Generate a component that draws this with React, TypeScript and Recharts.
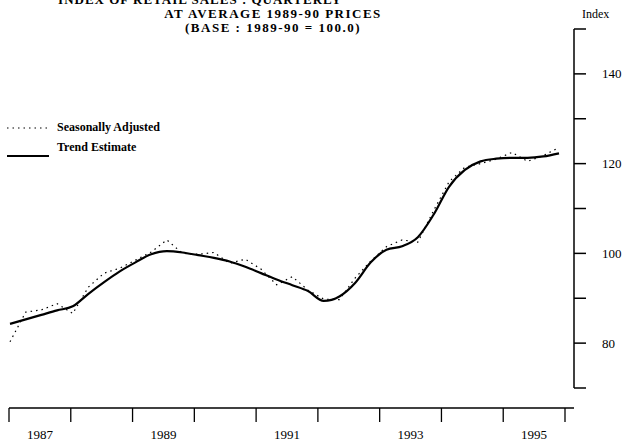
import { LineChart, Line, XAxis, YAxis, Legend } from 'recharts'

const quarters = [
    '1987Q1', '1987Q2', '1987Q3', '1987Q4', '1988Q1', '1988Q2', '1988Q3', '1988Q4',
    '1989Q1', '1989Q2', '1989Q3', '1989Q4', '1990Q1', '1990Q2', '1990Q3', '1990Q4',
    '1991Q1', '1991Q2', '1991Q3', '1991Q4', '1992Q1', '1992Q2', '1992Q3', '1992Q4',
    '1993Q1', '1993Q2', '1993Q3', '1993Q4', '1994Q1', '1994Q2', '1994Q3', '1994Q4',
    '1995Q1', '1995Q2', '1995Q3', '1995Q4',
]

const seasonallyAdjusted = [
    80.3, 86.9, 87.4, 88.8, 86.6, 92.5, 95.6, 96.7, 98.5, 100.3, 103.0, 100.0,
    99.8, 100.2, 97.8, 98.7, 96.5, 93.0, 94.8, 91.8, 89.8, 89.7, 94.5, 98.3,
    101.5, 103.0, 102.5, 109.5, 116.0, 119.2, 120.0, 121.0, 122.5, 120.5, 121.8, 123.6,
]

const trendEstimate = [
    84.3, 85.3, 86.3, 87.3, 88.2, 91.0, 93.6, 96.0, 98.0, 99.8, 100.5, 100.2,
    99.6, 99.0, 98.2, 97.0, 95.6, 94.2, 92.9, 91.6, 89.4, 90.4, 93.4, 98.0,
    100.8, 101.6, 103.6, 108.6, 114.9, 118.6, 120.5, 121.1, 121.3, 121.3, 121.6, 122.3,
]

// year boundaries and year labels, in quarter-index units (0 = start of 1987)
const firstYear = 1987
const yearTicks = [0, 4, 8, 12, 16, 20, 24, 28, 32, 36]
const yearLabelTicks = [2, 10, 18, 26, 34]
const indexTicks = [70, 80, 90, 100, 110, 120, 130, 140, 150]
const labelledIndex = [80, 100, 120, 140]

const data = quarters.map((q, i) => ({
    idx: i,
    quarter: q,
    sa: seasonallyAdjusted[i],
    trend: trendEstimate[i],
}))

const serif = '"Liberation Serif", "Times New Roman", serif'

function LegendBox() {
    return (
        <div style={{ fontFamily: serif, fontWeight: 'bold', fontSize: 12, color: '#000' }}>
            <div style={{ display: 'flex', alignItems: 'center', height: 20 }}>
                <svg width={50} height={10}>
                    <line x1={0} y1={6} x2={42} y2={6} stroke="#000" strokeWidth={1.2} strokeDasharray="1.5 4" />
                </svg>
                <span>Seasonally Adjusted</span>
            </div>
            <div style={{ display: 'flex', alignItems: 'center', height: 20 }}>
                <svg width={50} height={20}>
                    <line x1={0} y1={19} x2={42} y2={19} stroke="#000" strokeWidth={2} />
                </svg>
                <span>Trend Estimate</span>
            </div>
        </div>
    )
}

export default function App() {
    return (
        <div style={{ position: 'fixed', left: 0, top: 0, width: 625, height: 448, background: '#fff', overflow: 'hidden' }}>
            <div style={{ position: 'absolute', left: 0, width: 400, top: -8, textAlign: 'center', fontFamily: serif, fontWeight: 'bold', fontSize: 13, letterSpacing: 1 }}>
                INDEX OF RETAIL SALES : QUARTERLY
            </div>
            <div style={{ position: 'absolute', left: 123, width: 300, top: 7, textAlign: 'center', fontFamily: serif, fontWeight: 'bold', fontSize: 13, letterSpacing: 1.5, lineHeight: '14px' }}>
                <div>AT AVERAGE 1989-90 PRICES</div>
                <div>(BASE : 1989-90 = 100.0)</div>
            </div>
            <div style={{ position: 'absolute', left: 582, top: 7, fontFamily: serif, fontSize: 12 }}>Index</div>
            <LineChart width={625} height={448} data={data} margin={{ top: 29, right: 0, left: 9, bottom: 0 }}>
                <XAxis xAxisId="a_data" dataKey="idx" type="number" domain={[0, 35]} padding={{ left: 1, right: 15 }}
                    axisLine={false} tickLine={false} tick={false} height={20} />
                <XAxis xAxisId="b_years" dataKey="idx" type="number" domain={[0, 36]} ticks={yearTicks}
                    padding={{ left: 0, right: 9 }} allowDataOverflow
                    tickFormatter={() => ''} tickSize={14} height={14} axisLine={{ stroke: '#000', strokeWidth: 1.5 }}
                    tickLine={{ stroke: '#000', strokeWidth: 1.3 }} />
                <XAxis xAxisId="c_labels" dataKey="idx" type="number" domain={[0, 36]} ticks={yearLabelTicks}
                    padding={{ left: 0, right: 9 }} allowDataOverflow
                    tickFormatter={(v: number) => String(firstYear + Math.floor(v / 4))} axisLine={false} tickLine={false}
                    tickSize={0} tickMargin={8} height={26}
                    tick={{ fontSize: 13, fontFamily: serif, fill: '#000' }} />
                <YAxis orientation="right" type="number" domain={[70, 150]} ticks={indexTicks} width={51}
                    tickFormatter={(v: number) => (labelledIndex.includes(v) ? String(v) : '')}
                    tickSize={12} tickMargin={16} axisLine={{ stroke: '#000', strokeWidth: 1.5 }}
                    tickLine={{ stroke: '#000', strokeWidth: 1.5 }}
                    tick={{ fontSize: 13, fontFamily: serif, fill: '#000' }} />
                <Legend layout="vertical" align="center" verticalAlign="middle"
                    wrapperStyle={{ left: 7, top: 117, width: 220 }} content={() => <LegendBox />} />
                <Line xAxisId="a_data" dataKey="sa" name="Seasonally Adjusted" type="linear" stroke="#000"
                    strokeWidth={1.2} strokeDasharray="1.5 4" dot={false} isAnimationActive={false} />
                <Line xAxisId="a_data" dataKey="trend" name="Trend Estimate" type="monotone" stroke="#000"
                    strokeWidth={2.2} dot={false} isAnimationActive={false} />
            </LineChart>
        </div>
    )
}
